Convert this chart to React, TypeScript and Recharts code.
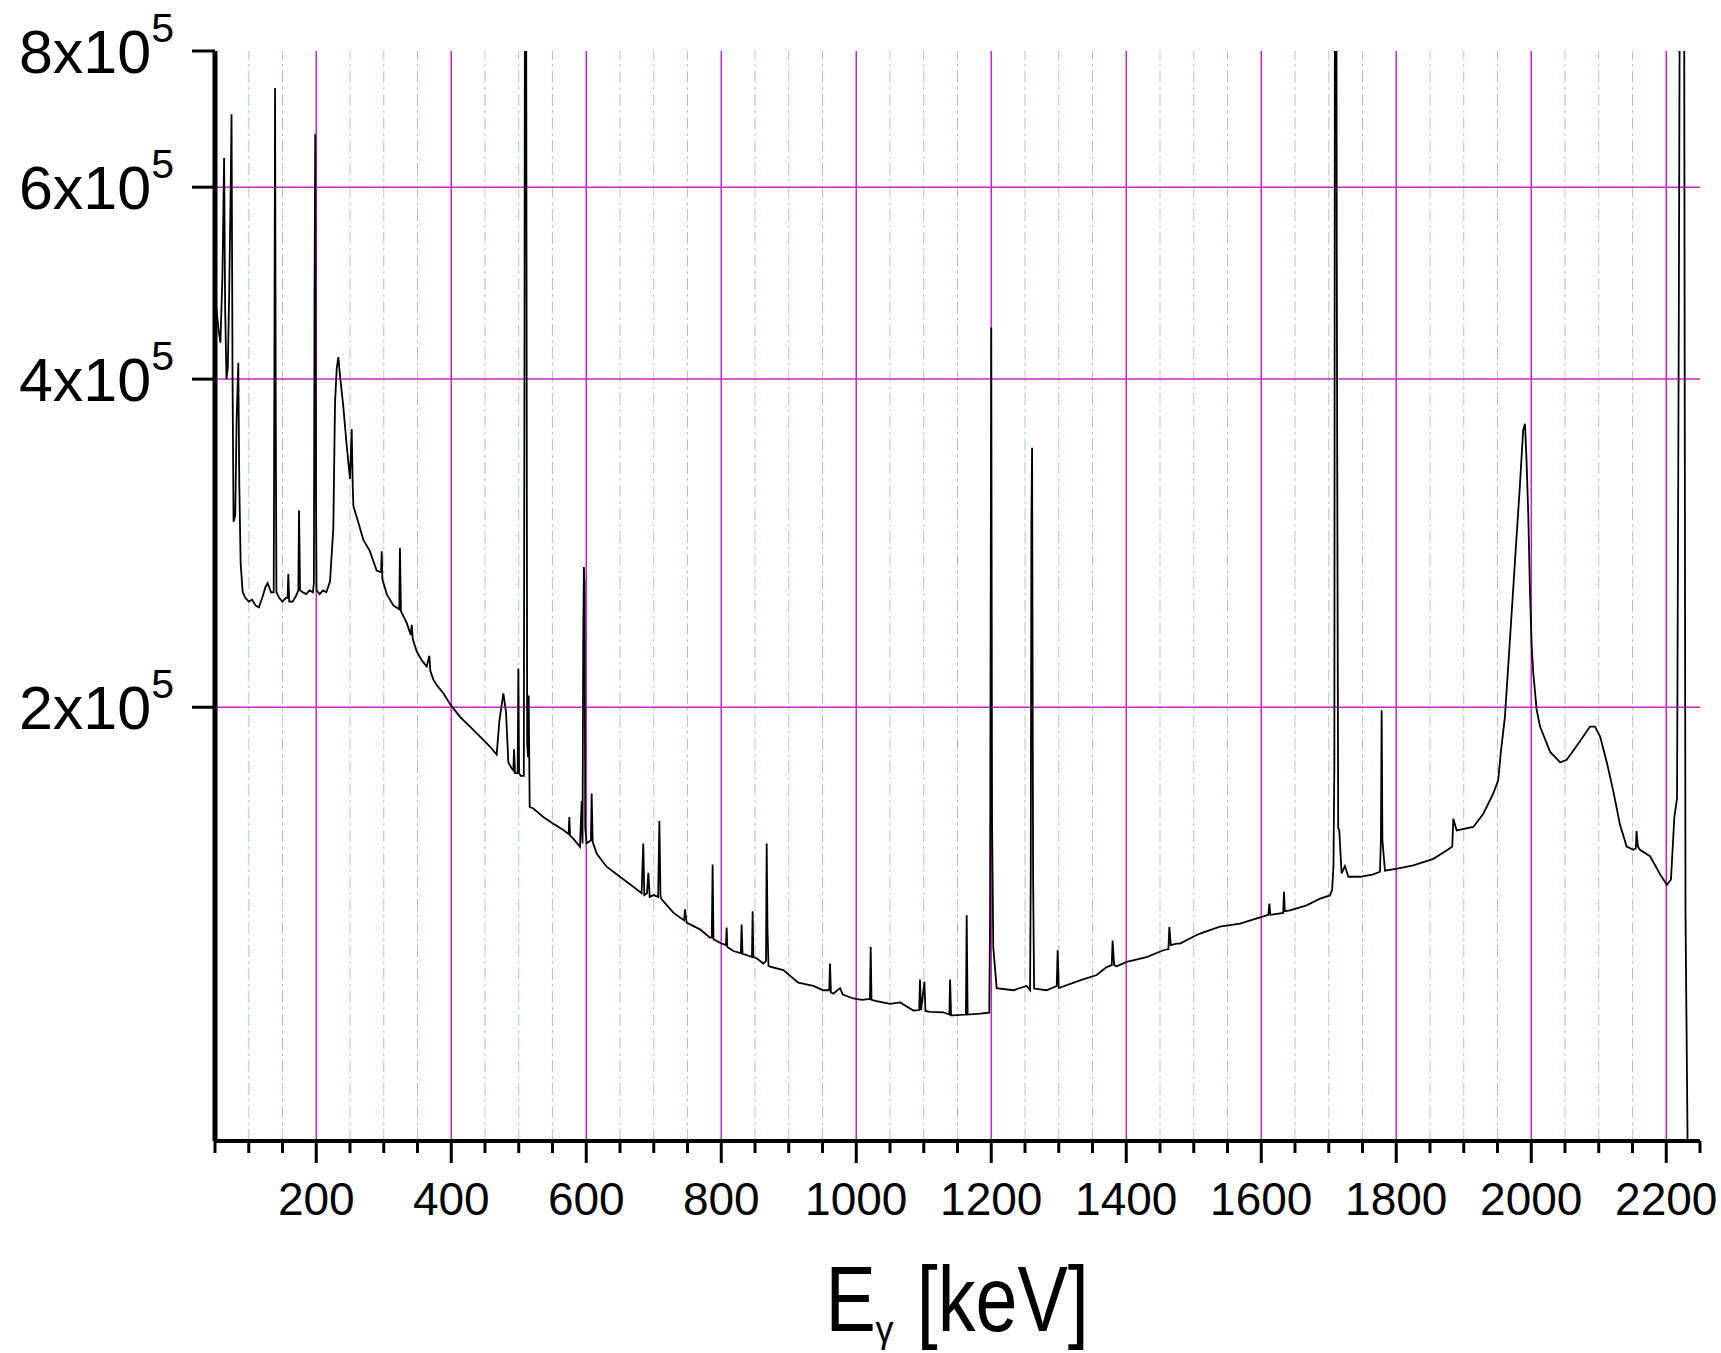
import React from 'react';
import { LineChart, Line, XAxis, YAxis, ReferenceLine } from 'recharts';

const FONT = '"Liberation Sans", Arial, Helvetica, sans-serif';

// Spectrum: [energy keV, counts]
const SEG_LOW: [number, number][] = [
  [50, 470000], [52, 465000], [55, 445000], [58, 432000], [61, 497000], [63.5, 638000],
  [65, 466000], [67, 400000], [69, 410000], [71, 480000], [73, 583000], [74.5, 700000],
  [76, 400000], [77.5, 296000], [80, 300000], [82, 366000], [84.5, 414000], [86, 320000],
  [88, 271000], [91, 255000], [95, 252000], [100, 250000], [105, 251000], [110, 248000],
  [115, 247000], [120, 252000], [125, 258000], [128, 260000], [133, 255000], [137, 255000],
  [138, 409000], [139, 740000], [140, 371000], [141, 255000], [145, 252000], [150, 250000],
  [155, 252000], [157.5, 252000], [158.6, 265000], [160, 250000], [165, 250000], [170, 253000],
  [173.5, 256000], [174.5, 303000], [176, 256000], [180, 255000], [185, 254000], [190, 256000],
  [195, 255000], [196.5, 260000], [197.5, 485000], [198.5, 671000], [199.5, 324000], [200.5, 256000],
  [205, 254000], [210, 256000], [215, 255000], [220.4, 261000], [225.3, 292000], [227.8, 380000],
  [230.3, 409000], [232.7, 419000], [235.2, 403000], [240, 378000], [245, 348000], [250, 324000],
  [252.5, 360000], [254, 320000], [255, 306000], [262, 296000], [269.7, 285000], [279.6, 278000],
  [289.5, 267000], [296, 266000], [297, 278000], [298, 262000], [304.4, 254000], [314.2, 248000],
  [323, 246000], [324, 280000], [325.5, 245000], [334, 239000], [340, 233000], [341.5, 238000],
];

const SEG_COMPTON: [number, number][] = [
  [343, 231000], [348.8, 225000], [356, 221000], [363.6, 218000], [367.5, 223000], [369, 216000],
  [373.5, 212000], [380, 209000], [388.3, 206000], [399.1, 201000], [413, 196000], [427.8, 192000],
  [442.6, 188000], [457.4, 184000], [467.3, 181000], [471.2, 194000], [477.2, 206000], [481.1, 198000],
  [484.6, 178000], [489, 176000], [492, 175000], [493, 183000], [494.5, 174000], [498.4, 174000],
  [499.4, 217000], [500.5, 174000], [503, 173000], [507.5, 173000], [508.5, 429000], [509.5, 1500000],
  [510.5, 1500000], [511.3, 638000], [512.5, 185000], [513.8, 180000], [514.7, 205000], [516.2, 162000],
  [521.6, 161500], [536.4, 158600], [551.2, 156400], [566, 154300], [574, 153000], [574.9, 158600],
  [576, 152500], [580.8, 151500], [590.7, 148900], [593.2, 164000], [594.5, 150000], [595.5, 230000],
  [596.5, 269000], [597.5, 260000], [598.5, 155000], [600.6, 150000], [607, 151000], [608, 166700],
  [609.5, 150500], [615.4, 146800], [630.2, 142800], [650, 139800], [669.7, 136900], [682, 135000],
  [684.5, 150000], [686, 134500], [690, 135000], [692, 141000], [694, 134000], [700, 134500],
  [706.5, 134000], [708.3, 157300], [710, 134000], [711.7, 133300], [729, 129600], [745, 127500],
  [746.3, 130500], [748.7, 126900], [768.5, 125100], [783.3, 122900], [786, 123000], [787.2, 143500],
  [788.5, 122500], [798.1, 121600], [807, 121000], [808, 125600], [809, 120500], [817.9, 119500],
  [829, 119000], [830.2, 126400], [831.5, 118800], [837.6, 118500], [845.5, 118000], [846.5, 130000],
  [847.5, 118000], [852.4, 117700], [862.3, 116400], [866.3, 117000], [867.3, 150000], [868.5, 125000],
  [870, 115800], [872.2, 115600], [892, 114800], [914.2, 111800], [936.4, 111000], [951.2, 110000],
  [960, 110000], [961.1, 116400], [962.5, 109500], [966, 109200], [976, 110500], [980, 109000],
  [995.7, 108100],
];

const SEG_MID: [number, number][] = [
  [1008, 107800], [1020.3, 108000], [1021.4, 120500], [1022.6, 107800], [1030.2, 107500], [1050, 106900],
  [1065, 107200], [1084.6, 105400], [1093.3, 105500], [1094.4, 112500], [1096, 105500], [1101, 112000],
  [1102.5, 105300], [1109.3, 105100], [1129, 105000], [1138, 104500], [1139, 112500], [1140.5, 104300],
  [1143.8, 104300], [1162.5, 104500], [1163.6, 128900], [1165, 104500], [1183.3, 104700], [1197, 104900],
  [1198.2, 126600], [1200, 446000], [1201.2, 157300], [1203, 120500], [1208, 110500], [1232.7, 110000],
  [1252.5, 111000], [1257.5, 110000], [1258.5, 140000], [1259.5, 296000], [1260.5, 346000], [1262, 140000],
  [1263.5, 110400], [1282, 110000], [1297, 111000], [1298.4, 119700], [1300, 110500], [1331.5, 112300],
  [1356.2, 113600], [1371, 115500], [1378.5, 116000], [1379.8, 122200], [1382, 116000], [1385.8, 115700],
  [1400.6, 116800], [1430.2, 118000], [1454.9, 119700], [1462.5, 120000], [1463.8, 125700], [1466, 121000],
  [1474.7, 121400], [1479.6, 121400], [1504.3, 123600], [1509.2, 124000], [1538.9, 125800], [1568.5, 126600],
  [1599.6, 128400], [1610.5, 129000], [1612, 132100], [1613.5, 129000], [1632.5, 129500], [1633.7, 135400],
  [1635, 130000], [1642.6, 130200], [1667.2, 131600], [1687, 133500], [1701.8, 134400],
];

const SEG_HIGH: [number, number][] = [
  [1705, 136000], [1707, 143000], [1708.3, 177000], [1709.3, 1500000], [1711, 1500000], [1711.8, 551000],
  [1712.6, 329000], [1714, 155000], [1715.6, 154200], [1719, 140800], [1724, 143000], [1729, 139800],
  [1746.3, 139800], [1766, 140500], [1775.9, 141300], [1777.3, 151500], [1778.4, 198700], [1779.5, 151000],
  [1783.3, 141600], [1801.6, 142200], [1825.3, 143200], [1854.9, 145200], [1874.6, 147800], [1883, 149000],
  [1884.5, 158000], [1889.5, 154200], [1914.1, 155300], [1929, 159700], [1943.8, 166700], [1951, 171400],
  [1955, 182000], [1961, 196000], [1968.5, 231000], [1976, 273000], [1983, 318000], [1988, 359000],
  [1990.7, 364000], [1993, 337000], [1995.7, 299000], [1998, 257000], [2000.6, 228000], [2003, 215000],
  [2008, 199000], [2013, 192000], [2028, 182000], [2043, 178000], [2052.5, 179000], [2072, 186000],
  [2087, 192000], [2094.4, 192000], [2102, 188000], [2112, 178000], [2122, 167000], [2131.5, 156000],
  [2141.4, 149000], [2151, 148000], [2155, 148500], [2156, 154000], [2158, 149000], [2161, 148000],
  [2176, 146000], [2191, 140500], [2201, 137400], [2207, 139000], [2212, 158600], [2216, 165000],
  [2218.6, 457000], [2221, 1500000], [2226, 1500000], [2228.5, 130000], [2233.4, 60000],
];

const X_TICKS = [
  50, 100, 150, 200, 250, 300, 350, 400, 450, 500, 550, 600, 650, 700, 750, 800, 850, 900, 950, 1000,
  1050, 1100, 1150, 1200, 1250, 1300, 1350, 1400, 1450, 1500, 1550, 1600, 1650, 1700, 1750, 1800, 1850,
  1900, 1950, 2000, 2050, 2100, 2150, 2200, 2250,
];
const X_MAJOR = [200, 400, 600, 800, 1000, 1200, 1400, 1600, 1800, 2000, 2200];
const X_MINOR_GRID = X_TICKS.filter((v) => !X_MAJOR.includes(v) && v !== 50 && v !== 2250);
const Y_TICKS = [200000, 400000, 600000, 800000];
const Y_GRID = [200000, 400000, 600000];
const X_DOMAIN: [number, number] = [50, 2250];
const Y_DOMAIN: [number, number] = [80000, 800000];

const DATA = [...SEG_LOW, ...SEG_COMPTON, ...SEG_MID, ...SEG_HIGH].map(([e, c]) => ({ e, c }));

const MAGENTA = '#cc22cc';

function XTick(props: any) {
  const { x, y, payload } = props;
  const v = payload.value;
  const major = X_MAJOR.includes(v);
  return (
    <g>
      <line x1={x} x2={x} y1={y} y2={y + (major ? 22 : 12)} stroke="#000" strokeWidth={3} />
      {major && (
        <text x={x} y={y + 74} textAnchor="middle" fontSize={46} fontFamily={FONT} fill="#000">
          {v}
        </text>
      )}
    </g>
  );
}

function YTick(props: any) {
  const { x, y, payload } = props;
  const v = payload.value;
  const exp = Math.floor(Math.log10(v) + 1e-9);
  const mant = Math.round(v / Math.pow(10, exp));
  return (
    <g>
      <line x1={x} x2={x - 23} y1={y} y2={y} stroke="#000" strokeWidth={3} />
      <text x={x - 41} y={y + 22} textAnchor="end" fontSize={61} fontFamily={FONT} fill="#000">
        {`${mant}x10`}
        <tspan dy={-31} fontSize={41}>{exp}</tspan>
      </text>
    </g>
  );
}

function AxisTitle(props: any) {
  const vb = props.viewBox || { x: 215, y: 1141, width: 1485, height: 212 };
  const cx = vb.x + vb.width / 2;
  const left = cx - 132;
  return (
    <g>
      <text
        transform={`translate(${left}, 1331) scale(1, 1.24)`}
        x={0}
        y={0}
        fontSize={75.5}
        fontFamily={FONT}
        fill="#000"
      >
        E
        <tspan dx={20}> [keV]</tspan>
      </text>
      <text x={left + 50} y={1342} fontSize={36} fontFamily={FONT} fill="#000">
        γ
      </text>
    </g>
  );
}

export default function App() {
  return (
    <div style={{ position: 'absolute', left: 0, top: 0, width: 1721, height: 1353, background: '#fff' }}>
      <LineChart width={1721} height={1353} data={DATA} margin={{ top: 51, right: 21, bottom: 0, left: 0 }}>
        <XAxis
          dataKey="e"
          type="number"
          domain={X_DOMAIN}
          ticks={X_TICKS}
          interval={0}
          tick={<XTick />}
          tickLine={false}
          tickSize={0}
          tickMargin={0}
          height={212}
          axisLine={{ stroke: '#000', strokeWidth: 4 }}
          allowDataOverflow
          label={<AxisTitle />}
        />
        <XAxis
          xAxisId="top"
          orientation="top"
          type="number"
          domain={X_DOMAIN}
          height={0}
          tick={false}
          tickLine={false}
          axisLine={{ stroke: '#000', strokeWidth: 4 }}
        />
        <YAxis
          type="number"
          scale="log"
          domain={Y_DOMAIN}
          ticks={Y_TICKS}
          interval={0}
          tick={<YTick />}
          tickLine={false}
          tickSize={0}
          tickMargin={0}
          width={215}
          axisLine={{ stroke: '#000', strokeWidth: 5 }}
          allowDataOverflow
        />
        <YAxis
          yAxisId="right"
          orientation="right"
          type="number"
          domain={[0, 1]}
          width={0}
          tick={false}
          tickLine={false}
          axisLine={{ stroke: '#000', strokeWidth: 4 }}
        />
        {X_MINOR_GRID.map((v) => (
          <ReferenceLine key={'m' + v} x={v} stroke="#a3d6a3" strokeWidth={1} strokeDasharray="12 4 3 4" />
        ))}
        {X_MAJOR.map((v) => (
          <ReferenceLine key={'M' + v} x={v} stroke={MAGENTA} strokeWidth={1.5} />
        ))}
        {Y_GRID.map((v) => (
          <ReferenceLine key={'h' + v} y={v} stroke={MAGENTA} strokeWidth={1.5} />
        ))}
        <Line
          dataKey="c"
          type="linear"
          stroke="#000"
          strokeWidth={1.8}
          dot={false}
          isAnimationActive={false}
        />
      </LineChart>
    </div>
  );
}
